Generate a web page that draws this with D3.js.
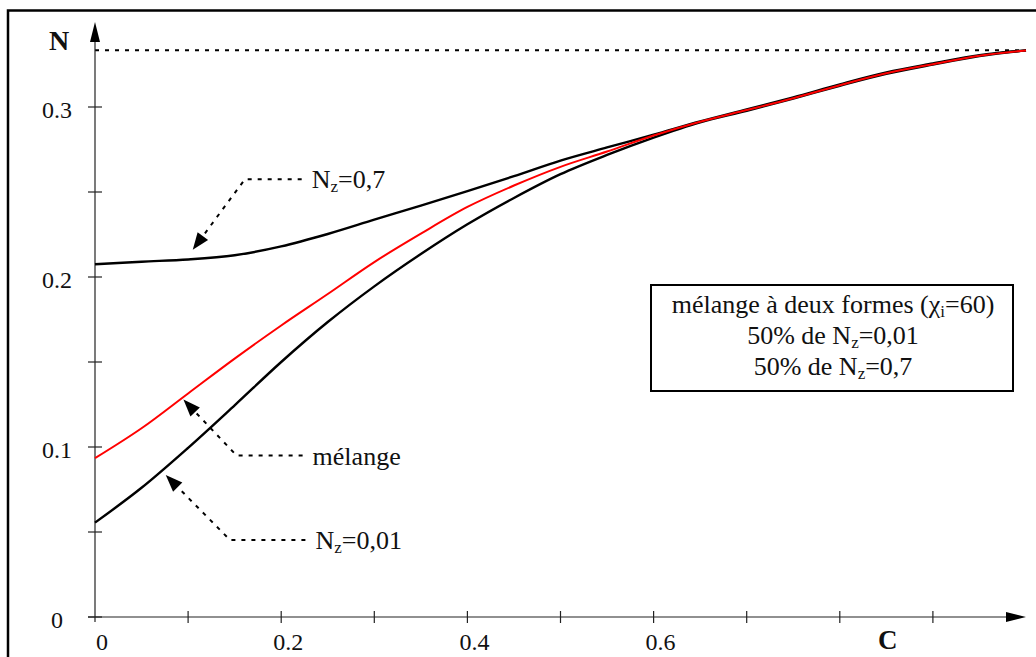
<!DOCTYPE html>
<html>
<head>
<meta charset="utf-8">
<script src="https://cdn.jsdelivr.net/npm/d3@7"></script>
<style>
  html, body { margin: 0; padding: 0; background: #fff; }
  svg { display: block; }
  text { font-family: "Liberation Serif", "Times New Roman", Times, serif; fill: #111; }
</style>
</head>
<body>
<svg id="chart" width="1036" height="657"></svg>
<script>
// ---- data ----
const C = [0, 0.05, 0.1, 0.15, 0.2, 0.25, 0.3, 0.35, 0.4, 0.45, 0.5, 0.55, 0.6, 0.65, 0.7, 0.75, 0.8, 0.85, 0.9, 0.95, 1.0];
const N_nz07 = [0.2075, 0.209, 0.2103, 0.2128, 0.218, 0.2253, 0.2337, 0.242, 0.2505, 0.2593, 0.2685, 0.2762, 0.2837, 0.2915, 0.2986, 0.3057, 0.3133, 0.3203, 0.3256, 0.3305, 0.3333];
const N_melange = [0.0934, 0.111, 0.1315, 0.152, 0.1715, 0.190, 0.2088, 0.2255, 0.2412, 0.2538, 0.2648, 0.2738, 0.2832, 0.2913, 0.2982, 0.3052, 0.3128, 0.3198, 0.3252, 0.3302, 0.3333];
const N_nz001 = [0.0555, 0.076, 0.0995, 0.1245, 0.150, 0.1735, 0.1945, 0.2135, 0.231, 0.2465, 0.2605, 0.2718, 0.282, 0.291, 0.2978, 0.305, 0.3125, 0.3195, 0.325, 0.33, 0.3333];
const N_limit = 1 / 3;
const xTicks = [0, 0.1, 0.2, 0.3, 0.4, 0.5, 0.6, 0.7, 0.8, 0.9];
const xTickLabels = ["0", "", "0.2", "", "0.4", "", "0.6", "", "", ""];
const yTicks = [0, 0.05, 0.1, 0.15, 0.2, 0.25, 0.3];
const yTickLabels = ["0", "", "0.1", "", "0.2", "", "0.3"];
const legendLines = [
  [["mélange à deux formes (χ", false], ["i", true], ["=60)", false]],
  [["50% de N", false], ["z", true], ["=0,01", false]],
  [["50% de N", false], ["z", true], ["=0,7", false]]
];
// annotations: arrow tip, knee, end of leader (data coords), label parts
const annotations = [
  { tip: [0.105, 0.216], knee: [0.161, 0.2575], end: [0.222, 0.2575], parts: [["N", false], ["z", true], ["=0,7", false]] },
  { tip: [0.095, 0.1279], knee: [0.152, 0.0950], end: [0.223, 0.0950], parts: [["mélange", false]] },
  { tip: [0.076, 0.0835], knee: [0.145, 0.0453], end: [0.226, 0.0453], parts: [["N", false], ["z", true], ["=0,01", false]] }
];

// ---- scales ----
const x = d3.scaleLinear().domain([0, 1]).range([95, 1026]);
const y = d3.scaleLinear().domain([0, 0.35]).range([617, 22]);

const svg = d3.select("#chart");

// outer frame
svg.append("rect").attr("x", 8).attr("y", 10.5).attr("width", 1100).attr("height", 700)
  .attr("fill", "none").attr("stroke", "#000").attr("stroke-width", 2.5);

// limit dotted line
svg.append("line")
  .attr("x1", x(0)).attr("x2", x(1)).attr("y1", y(N_limit)).attr("y2", y(N_limit))
  .attr("stroke", "#000").attr("stroke-width", 2).attr("stroke-dasharray", "4,6");

// axes
const axisColor = "#222";
svg.append("line").attr("x1", x(0)).attr("x2", x(0)).attr("y1", y(0) + 5).attr("y2", y(0.35) + 18)
  .attr("stroke", axisColor).attr("stroke-width", 1.2);
svg.append("path").attr("d", `M${x(0)},${y(0.35)} L${x(0) - 5},${y(0.35) + 20} L${x(0) + 5},${y(0.35) + 20} Z`).attr("fill", "#000");
svg.append("line").attr("x1", x(0) - 7).attr("x2", x(1) - 18).attr("y1", y(0)).attr("y2", y(0))
  .attr("stroke", axisColor).attr("stroke-width", 1.2);
svg.append("path").attr("d", `M${x(1)},${y(0)} L${x(1) - 20},${y(0) - 5} L${x(1) - 20},${y(0) + 5} Z`).attr("fill", "#000");

// y ticks
yTicks.forEach((t, i) => {
  svg.append("line").attr("x1", x(0) - 7).attr("x2", x(0) + 7).attr("y1", y(t)).attr("y2", y(t))
    .attr("stroke", axisColor).attr("stroke-width", 1.2);
  if (yTickLabels[i]) {
    svg.append("text").attr("x", 57).attr("y", y(t) + 11).attr("text-anchor", "middle")
      .attr("font-size", 24).text(yTickLabels[i]);
  }
});
// x ticks
xTicks.forEach((t, i) => {
  if (t > 0) {
    svg.append("line").attr("x1", x(t)).attr("x2", x(t)).attr("y1", y(0) - 6).attr("y2", y(0) + 6)
      .attr("stroke", axisColor).attr("stroke-width", 1.2);
  }
  if (xTickLabels[i]) {
    svg.append("text").attr("x", x(t) + 7).attr("y", 650).attr("text-anchor", "middle")
      .attr("font-size", 24).text(xTickLabels[i]);
  }
});
// axis titles
svg.append("text").attr("x", 49).attr("y", 50).attr("font-size", 28).attr("font-weight", "bold").text("N");
svg.append("text").attr("x", 878).attr("y", 649).attr("font-size", 27).attr("font-weight", "bold").text("C");

// curves
const line = d3.line().x((d, i) => x(C[i])).y(d => y(d)).curve(d3.curveCatmullRom.alpha(0.5));
svg.append("path").datum(N_nz07).attr("d", line).attr("fill", "none").attr("stroke", "#000").attr("stroke-width", 2.4);
svg.append("path").datum(N_nz001).attr("d", line).attr("fill", "none").attr("stroke", "#000").attr("stroke-width", 2.4);
svg.append("path").datum(N_melange).attr("d", line).attr("fill", "none").attr("stroke", "#ff0000").attr("stroke-width", 2);

// rich text helper
function richText(sel, parts, big, small) {
  let shifted = false;
  parts.forEach(([s, sub]) => {
    const t = sel.append("tspan").text(s).attr("font-size", sub ? small : big);
    if (sub && !shifted) { t.attr("dy", 4); shifted = true; }
    else if (!sub && shifted) { t.attr("dy", -4); shifted = false; }
  });
}

// annotations
annotations.forEach(a => {
  const tip = [x(a.tip[0]), y(a.tip[1])];
  const knee = [x(a.knee[0]), y(a.knee[1])];
  const end = [x(a.end[0]), y(a.end[1])];
  const dx = knee[0] - tip[0], dy = knee[1] - tip[1];
  const len = Math.hypot(dx, dy);
  const ux = dx / len, uy = dy / len;
  const L = 17, W = 6.5;
  const bx = tip[0] + ux * L, by = tip[1] + uy * L;
  svg.append("path")
    .attr("d", `M${tip[0]},${tip[1]} L${bx - uy * W},${by + ux * W} L${bx + uy * W},${by - ux * W} Z`)
    .attr("fill", "#000");
  svg.append("path")
    .attr("d", `M${end[0]},${end[1]} L${knee[0]},${knee[1]} L${bx},${by}`)
    .attr("fill", "none").attr("stroke", "#000").attr("stroke-width", 2).attr("stroke-dasharray", "4,6");
  const t = svg.append("text").attr("x", end[0] + 10).attr("y", end[1] + 9).attr("font-size", 26);
  richText(t, a.parts, 26, 17);
});

// legend box
svg.append("rect").attr("x", 651).attr("y", 285).attr("width", 362).attr("height", 106)
  .attr("fill", "#fff").attr("stroke", "#000").attr("stroke-width", 2);
legendLines.forEach((parts, i) => {
  const t = svg.append("text").attr("x", 833).attr("y", 313 + i * 31).attr("text-anchor", "middle").attr("font-size", 26);
  richText(t, parts, 26, 17);
});
</script>
</body>
</html>
